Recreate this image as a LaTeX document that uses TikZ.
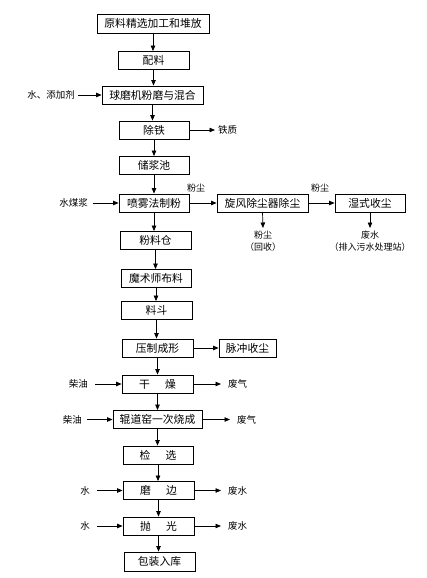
\documentclass[tikz,border=0pt]{standalone}
\usepackage{fontspec}
\setmainfont{Noto Sans CJK SC}
\usetikzlibrary{arrows.meta}

\tikzset{
    procbox/.style={draw,
        line width=0.9pt,
        minimum width=71pt,
        minimum height=18pt,
        inner sep=2pt,
        align=center,
        font=\fontsize{10.8pt}{13pt}\selectfont},
    sidetext/.style={
        inner sep=3pt,
        align=center,
        font=\fontsize{9.5pt}{11.5pt}\selectfont},
    flow/.style={line width=0.7pt, -{Triangle[length=5.5pt,width=4.5pt]}},
}

\begin{document}
\begin{tikzpicture}
\useasboundingbox (0,0) rectangle (427pt,-578pt);

% Main line
\node (yuanliao) [procbox,
    minimum width=112pt,
    minimum height=19pt,
    xshift=153pt,
    yshift=-23.5pt
] {原料精选加工和堆放};
\node (peiliao) [procbox,
    xshift=153.5pt,
    yshift=-60.5pt
] {配料};
\node (qiumo) [procbox,
    minimum width=101pt,
    xshift=152.5pt,
    yshift=-95pt
] {球磨机粉磨与混合};
\node (chutie) [procbox,
    minimum width=70pt,
    xshift=154pt,
    yshift=-130pt
] {除铁};
\node (chujiang) [procbox,
    minimum width=70pt,
    xshift=154pt,
    yshift=-165.5pt
] {储浆池};
\node (penwu) [procbox,
    minimum width=70pt,
    xshift=154pt,
    yshift=-203pt
] {喷雾法制粉};
\node (fenliao) [procbox,
    xshift=155.5pt,
    yshift=-240.5pt
] {粉料仓};
\node (moshu) [procbox,
    minimum width=70pt,
    xshift=156pt,
    yshift=-278.5pt
] {魔术师布料};
\node (liaodou) [procbox,
    xshift=156.5pt,
    yshift=-310.5pt
] {料斗};
\node (yazhi) [procbox,
    xshift=157.5pt,
    yshift=-348pt
] {压制成形};
\node (ganzao) [procbox,
    xshift=157.5pt,
    yshift=-384pt
] {干\hspace{1.4em}燥};
\node (gundao) [procbox,
    minimum width=89pt,
    xshift=157.5pt,
    yshift=-419.5pt
] {辊道窑一次烧成};
\node (jianxuan) [procbox,
    minimum width=70pt,
    xshift=158pt,
    yshift=-455pt
] {检\hspace{1.4em}选};
\node (mobian) [procbox,
    xshift=158.5pt,
    yshift=-490.5pt
] {磨\hspace{1.4em}边};
\node (paoguang) [procbox,
    xshift=158.5pt,
    yshift=-526pt
] {抛\hspace{1.4em}光};
\node (baozhuang) [procbox,
    xshift=159.5pt,
    yshift=-561.5pt,
    minimum height=19pt
] {包装入库};

% Dust line
\node (xuanfeng) [procbox,
    minimum width=91pt,
    xshift=262.5pt,
    yshift=-203pt
] {旋风除尘器除尘};
\node (shishi) [procbox,
    minimum width=70pt,
    xshift=370pt,
    yshift=-203pt
] {湿式收尘};
\node (maichong) [procbox,
    minimum width=57pt,
    xshift=247.5pt,
    yshift=-348pt
] {脉冲收尘};

%-------------------------------------
% Side texts
\node (tianjiaji) [sidetext, anchor=east, xshift=78pt, yshift=-95pt] {水、添加剂};
\node (tiezhi) [sidetext, anchor=west, xshift=215pt, yshift=-130pt] {铁质};
\node (meijiang) [sidetext, anchor=east, xshift=91pt, yshift=-203pt] {水煤浆};
\node (fenchen1) [sidetext, font=\fontsize{9pt}{11pt}\selectfont, xshift=196pt, yshift=-188pt] {粉尘};
\node (fenchen2) [sidetext, font=\fontsize{9pt}{11pt}\selectfont, xshift=320pt, yshift=-188pt] {粉尘};
\node (huishou) [sidetext,
    font=\fontsize{9pt}{11.5pt}\selectfont,
    anchor=north,
    xshift=263pt,
    yshift=-228pt
] {粉尘\\（回收）};
\node (wushui) [sidetext,
    font=\fontsize{9pt}{11.5pt}\selectfont,
    anchor=north,
    xshift=370pt,
    yshift=-228pt
] {废水\\（排入污水处理站）};
\node (chaiyou1) [sidetext, anchor=east, xshift=91pt, yshift=-384pt] {柴油};
\node (feiqi1) [sidetext, anchor=west, xshift=225pt, yshift=-384pt] {废气};
\node (chaiyou2) [sidetext, anchor=east, xshift=85pt, yshift=-419.5pt] {柴油};
\node (feiqi2) [sidetext, anchor=west, xshift=234pt, yshift=-419.5pt] {废气};
\node (shui1) [sidetext, anchor=east, xshift=93pt, yshift=-490.5pt] {水};
\node (feishui1) [sidetext, anchor=west, xshift=225pt, yshift=-490.5pt] {废水};
\node (shui2) [sidetext, anchor=east, xshift=93pt, yshift=-526pt] {水};
\node (feishui2) [sidetext, anchor=west, xshift=225pt, yshift=-526pt] {废水};

%-------------------------------------
% Down arrows
\draw [flow] (yuanliao.south) -- (yuanliao.south |- peiliao.north);
\draw [flow] (peiliao.south) -- (peiliao.south |- qiumo.north);
\draw [flow] (qiumo.south) -- (qiumo.south |- chutie.north);
\draw [flow] (chutie.south) -- (chutie.south |- chujiang.north);
\draw [flow] (chujiang.south) -- (chujiang.south |- penwu.north);
\draw [flow] (penwu.south) -- (penwu.south |- fenliao.north);
\draw [flow] (fenliao.south) -- (fenliao.south |- moshu.north);
\draw [flow] (moshu.south) -- (moshu.south |- liaodou.north);
\draw [flow] (liaodou.south) -- (liaodou.south |- yazhi.north);
\draw [flow] (yazhi.south) -- (yazhi.south |- ganzao.north);
\draw [flow] (ganzao.south) -- (ganzao.south |- gundao.north);
\draw [flow] (gundao.south) -- (gundao.south |- jianxuan.north);
\draw [flow] (jianxuan.south) -- (jianxuan.south |- mobian.north);
\draw [flow] (mobian.south) -- (mobian.south |- paoguang.north);
\draw [flow] (paoguang.south) -- (paoguang.south |- baozhuang.north);
\draw [flow] (xuanfeng.south) -- (huishou.north);
\draw [flow] (shishi.south) -- (wushui.north);

% Side arrows
\draw [flow] (tianjiaji.east) -- (qiumo.west);
\draw [flow] (chutie.east) -- (tiezhi.west);
\draw [flow, shorten <=2pt] (meijiang.east) -- (penwu.west);
\draw [flow] (penwu.east) -- (xuanfeng.west);
\draw [flow] (xuanfeng.east) -- (shishi.west);
\draw [flow] (yazhi.east) -- (maichong.west);
\draw [flow, shorten <=4pt] (chaiyou1.east) -- (ganzao.west);
\draw [flow, shorten >=4pt] (ganzao.east) -- (feiqi1.west);
\draw [flow, shorten <=2pt] (chaiyou2.east) -- (gundao.west);
\draw [flow, shorten >=4pt] (gundao.east) -- (feiqi2.west);
\draw [flow, shorten <=4pt] (shui1.east) -- (mobian.west);
\draw [flow, shorten >=4pt] (mobian.east) -- (feishui1.west);
\draw [flow, shorten <=4pt] (shui2.east) -- (paoguang.west);
\draw [flow, shorten >=4pt] (paoguang.east) -- (feishui2.west);

\end{tikzpicture}
\end{document}
